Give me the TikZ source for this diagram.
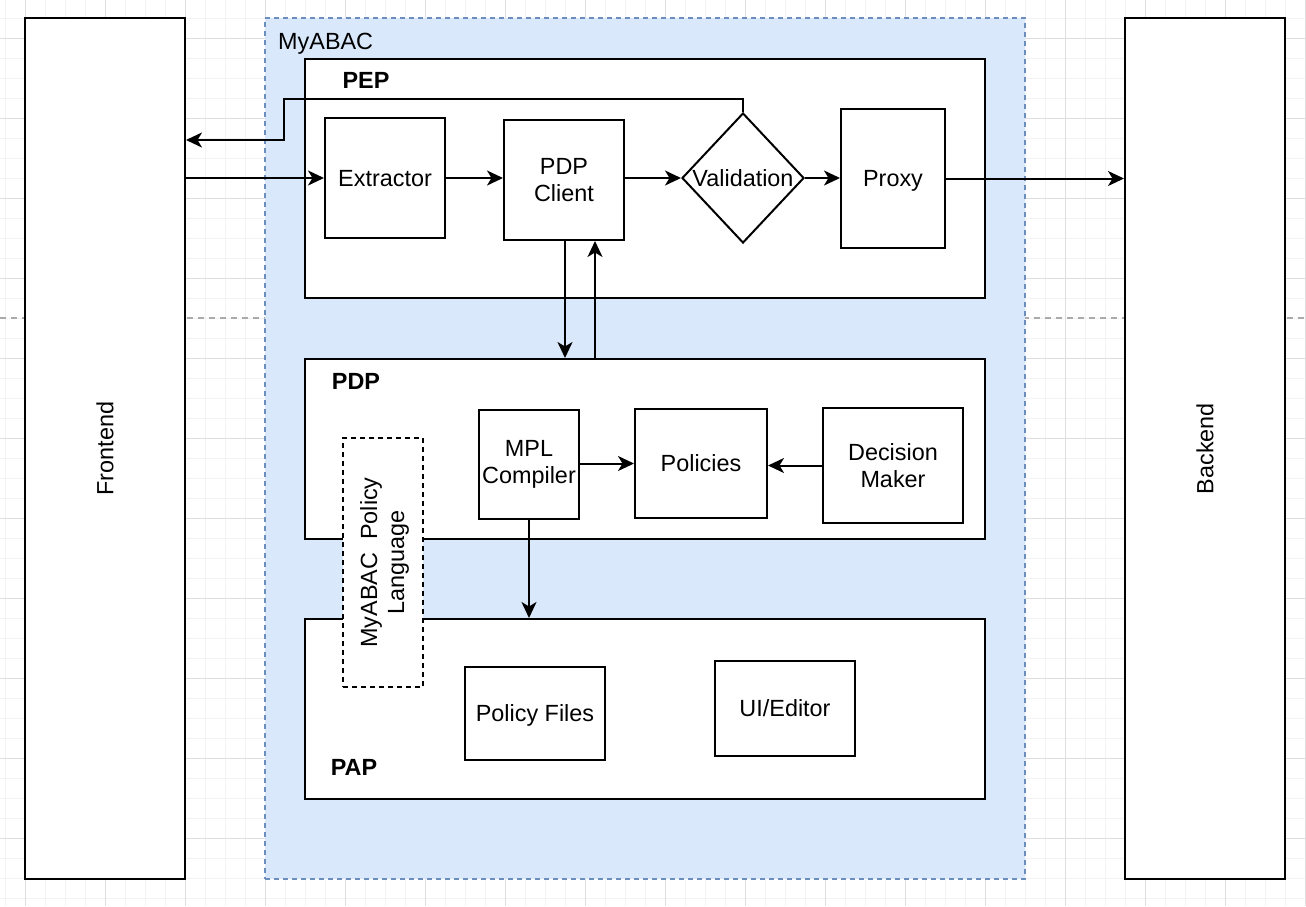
\documentclass[tikz,border=0pt]{standalone}
\usepackage{fontspec}
\setmainfont{Liberation Sans}
\usetikzlibrary{arrows.meta,shapes.geometric,calc}
\definecolor{containerfill}{HTML}{DAE8FC}
\definecolor{containerline}{HTML}{6C8EBF}
\definecolor{gridminor}{HTML}{F3F3F3}
\definecolor{gridmajor}{HTML}{DEDEDE}
\definecolor{pageline}{HTML}{AAAAAA}
\begin{document}
\begin{tikzpicture}[x=1pt,y=-1pt,
  txt/.style={font=\fontsize{23.4}{27}\selectfont, align=center, inner sep=0pt, text height=21pt, text depth=4.2pt},
  multi/.style={text height=, text depth=},
  box/.style={txt, draw=black, line width=2pt, fill=white},
  lbl/.style={txt, font=\fontsize{23.4}{27}\selectfont\bfseries},
  arr/.style={line width=2pt, -{Stealth[length=16pt,width=15pt,inset=4.5pt]}}]
\useasboundingbox (0,0) rectangle (1306,906);
\fill[white] (0,0) rectangle (1306,906);
% grid
\foreach \x in {5,25,...,1305} \draw[gridminor, line width=1pt] (\x,0) -- (\x,906);
\foreach \y in {18,38,...,898} \draw[gridminor, line width=1pt] (0,\y) -- (1306,\y);
\foreach \x in {25,105,...,1305} \draw[gridmajor, line width=1pt] (\x,0) -- (\x,906);
\foreach \y in {38,118,...,898} \draw[gridmajor, line width=1pt] (0,\y) -- (1306,\y);
\draw[pageline, line width=1.5pt, dash pattern=on 6pt off 5pt] (0,318) -- (1306,318);
% container
\node[draw=containerline, fill=containerfill, line width=1.5pt, dash pattern=on 5pt off 4pt,
      minimum width=760pt, minimum height=861pt, inner sep=0pt] (myabac) at (645,448.5) {};
\node[txt, anchor=west] (myabaclbl) at (278,41) {MyABAC};
% side boxes
\node[box, minimum width=160pt, minimum height=861pt] (fe) at (105,448.5) {};
\node[txt, rotate=90] (fetxt) at (fe.center) {Frontend};
\node[box, minimum width=160pt, minimum height=861pt] (be) at (1205,448.5) {};
\node[txt, rotate=90] (betxt) at (be.center) {Backend};
% PEP
\node[box, minimum width=680pt, minimum height=239pt] (pep) at (645,178.5) {};
\node[lbl] (peplbl) at (366,80) {PEP};
\node[box, minimum width=120pt, minimum height=120pt] (ext) at (385,178) {Extractor};
\node[box, multi, minimum width=120pt, minimum height=120pt] (pdpc) at (564,180) {PDP\\Client};
\node[diamond, draw=black, line width=2pt, fill=white, inner sep=0pt,
      minimum width=122pt, minimum height=130pt] (val) at (743,178) {};
\node[txt] (valtxt) at (val.center) {Validation};
\node[box, minimum width=104pt, minimum height=139pt] (proxy) at (893,178.5) {Proxy};
% PDP
\node[box, minimum width=680pt, minimum height=180pt] (pdp) at (645,449) {};
\node[lbl] (pdplbl) at (356,381) {PDP};
\node[box, multi, minimum width=100pt, minimum height=109pt] (mpl) at (529,464.5) {MPL\\Compiler};
\node[box, minimum width=132pt, minimum height=109pt] (pol) at (701,463.5) {Policies};
\node[box, multi, minimum width=140pt, minimum height=115pt] (dm) at (893,465.5) {Decision\\Maker};
% PAP
\node[box, minimum width=680pt, minimum height=180pt] (pap) at (645,709) {};
\node[lbl] (paplbl) at (354,767) {PAP};
\node[box, minimum width=140pt, minimum height=93pt] (pf) at (535,713.5) {Policy Files};
\node[box, minimum width=140pt, minimum height=95pt] (ui) at (785,708.5) {UI/Editor};
% policy language
\node[box, dashed, dash pattern=on 5pt off 4pt, minimum width=80pt, minimum height=249pt] (mplang) at (383,562.5) {};
\node[txt, multi, rotate=90] (mplangtxt) at ([xshift=1.5pt]mplang.center) {MyABAC\ \ Policy\\Language};
% connectors
\draw[arr] (fe.east |- ext.west) -- (ext.west);
\draw[arr] (ext.east) -- (ext.east -| pdpc.west);
\draw[arr] (pdpc.east |- ext.east) -- (ext.east -| val.west);
\draw[arr] (val.east) -- (val.east -| proxy.west);
\draw[arr] (proxy.east) -- (proxy.east -| be.west);
\coordinate (bendA) at (284,99);
\coordinate (ret) at (284,140);
\draw[arr] (val.north) |- (bendA) -- (ret) -- (fe.east |- ret);
\coordinate (dn) at (565,0);
\coordinate (up) at (595,0);
\draw[arr] (pdpc.south -| dn) -- (pdp.north -| dn);
\draw[arr] (pdp.north -| up) -- (pdpc.south -| up);
\draw[arr] (mpl.east |- pol.west) -- (pol.west);
\draw[arr] (dm.west) -- (dm.west -| pol.east);
\draw[arr] (mpl.south) -- (mpl.south |- pap.north);
\end{tikzpicture}
\end{document}
